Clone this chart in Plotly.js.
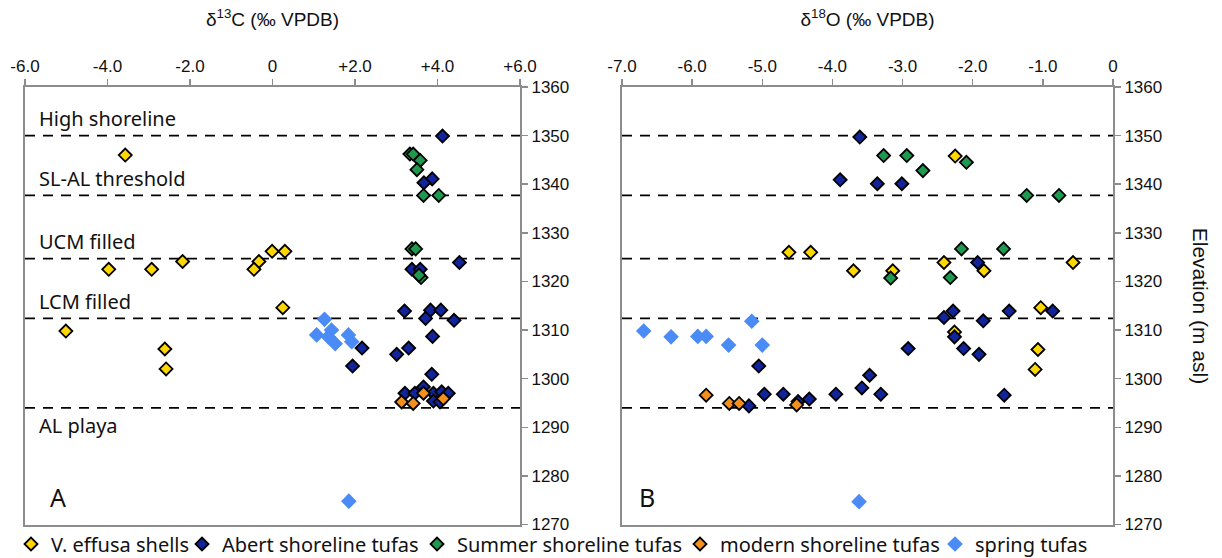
<!DOCTYPE html>
<html>
<head>
<meta charset="utf-8">
<script src="https://cdn.plot.ly/plotly-3.0.1.min.js"></script>
<style>html,body{margin:0;padding:0;background:#fff;}#chart{width:1222px;height:558px;}</style>
</head>
<body>
<div id="chart"></div>
<script>
// ---- Reference levels ----
const levelElev = [1350, 1337.7, 1324.7, 1312.4, 1294];
const levelNames = ["High shoreline", "SL-AL threshold", "UCM filled", "LCM filled", "AL playa"];

// ---- Axis ticks ----
const cTickVals = [-6, -4, -2, 0, 2, 4, 6];
const cTickText = ["-6.0", "-4.0", "-2.0", "0", "+2.0", "+4.0", "+6.0"];
const oTickVals = [-7, -6, -5, -4, -3, -2, -1, 0];
const oTickText = ["-7.0", "-6.0", "-5.0", "-4.0", "-3.0", "-2.0", "-1.0", "0"];
const elevTicks = [1270, 1280, 1290, 1300, 1310, 1320, 1330, 1340, 1350, 1360];

// ---- V. effusa shells ----
const shellElevC = [1346, 1326.2, 1326.2, 1324.1, 1324.1, 1322.5, 1322.5, 1322.5, 1314.6, 1309.8, 1306.1, 1302];
const shellD13C  = [-3.57, -0.01, 0.30, -2.18, -0.33, -3.97, -2.93, -0.45, 0.25, -5.01, -2.61, -2.58];
const shellElevO = [1345.8, 1326, 1326, 1323.9, 1323.9, 1322.2, 1322.2, 1322.2, 1314.6, 1309.6, 1306, 1301.9];
const shellD18O  = [-2.25, -4.62, -4.31, -2.41, -0.57, -3.70, -3.14, -1.84, -1.03, -2.26, -1.07, -1.11];

// ---- Abert shoreline tufas ----
const abertElevC = [1349.9, 1341.1, 1340.3, 1323.9, 1322.5, 1322.5, 1313.9, 1314.1, 1314.1, 1312.4, 1312.0, 1306.3, 1302.6, 1305.0, 1306.3, 1308.7, 1300.9, 1297.0, 1297.0, 1298.3, 1297.0, 1297.3, 1297.0, 1295.4, 1295.2];
const abertD13C  = [4.12, 3.87, 3.67, 4.53, 3.38, 3.58, 3.20, 3.83, 4.08, 3.71, 4.40, 2.17, 1.94, 3.01, 3.30, 3.88, 3.86, 3.21, 3.45, 3.66, 3.90, 4.10, 4.26, 3.90, 4.06];
const abertElevO = [1349.7, 1340.9, 1340.1, 1340.1, 1323.9, 1313.9, 1313.9, 1313.9, 1312.6, 1311.9, 1308.6, 1306.2, 1306.2, 1305.0, 1302.6, 1300.7, 1298.1, 1296.8, 1296.8, 1296.8, 1296.8, 1296.6, 1295.8, 1295.3, 1294.4];
const abertD18O  = [-3.61, -3.89, -3.36, -3.01, -1.93, -2.28, -1.48, -0.86, -2.41, -1.85, -2.26, -2.92, -2.13, -1.91, -5.05, -3.47, -3.58, -4.97, -4.70, -3.95, -3.31, -1.55, -4.33, -4.49, -5.19];

// ---- Summer shoreline tufas ----
const summerElevC = [1346.2, 1346.2, 1344.9, 1343.0, 1337.7, 1337.7, 1326.7, 1326.7, 1320.8, 1321.3];
const summerD13C  = [3.33, 3.41, 3.58, 3.50, 3.66, 4.03, 3.38, 3.47, 3.60, 3.55];
const summerElevO = [1345.9, 1345.9, 1344.5, 1342.8, 1337.7, 1337.7, 1326.7, 1326.7, 1320.7, 1320.8];
const summerD18O  = [-3.27, -2.94, -2.09, -2.71, -1.23, -0.77, -2.16, -1.56, -3.17, -2.32];

// ---- modern shoreline tufas ----
const modernElevC = [1295.2, 1294.9, 1297.0, 1295.9];
const modernD13C  = [3.13, 3.41, 3.66, 4.14];
const modernElevO = [1296.6, 1294.9, 1294.9, 1294.6];
const modernD18O  = [-5.80, -5.47, -5.33, -4.51];

// ---- spring tufas ----
const springElevC = [1312.2, 1309.0, 1310.0, 1308.6, 1307.2, 1309.0, 1307.6, 1274.8];
const springD13C  = [1.26, 1.07, 1.43, 1.35, 1.52, 1.84, 1.92, 1.85];
const springElevO = [1309.8, 1308.6, 1308.7, 1308.7, 1306.9, 1311.8, 1306.9, 1274.7];
const springD18O  = [-6.69, -6.30, -5.92, -5.80, -5.48, -5.15, -5.00, -3.62];

const series = [
  {name: "spring tufas", color: "#4b8bf5", outline: false, size: 12, legend: "legend5",
   eC: springElevC, c: springD13C, eO: springElevO, o: springD18O},
  {name: "V. effusa shells", color: "#ffd700", outline: true, size: 10, legend: "legend",
   eC: shellElevC, c: shellD13C, eO: shellElevO, o: shellD18O},
  {name: "Abert shoreline tufas", color: "#11249b", outline: true, size: 10, legend: "legend2",
   eC: abertElevC, c: abertD13C, eO: abertElevO, o: abertD18O},
  {name: "Summer shoreline tufas", color: "#1e9a50", outline: true, size: 10, legend: "legend3",
   eC: summerElevC, c: summerD13C, eO: summerElevO, o: summerD18O},
  {name: "modern shoreline tufas", color: "#f5901e", outline: true, size: 10, legend: "legend4",
   eC: modernElevC, c: modernD13C, eO: modernElevO, o: modernD18O}
];

const traces = [];
series.forEach(s => {
  const marker = {symbol: "diamond", size: s.size, color: s.color,
    line: s.outline ? {color: "#000", width: 1.8} : {width: 0}};
  traces.push({type: "scatter", mode: "markers", name: s.name, x: s.c, y: s.eC,
    xaxis: "x", yaxis: "y", marker: marker, legend: s.legend, showlegend: true});
  traces.push({type: "scatter", mode: "markers", name: s.name, x: s.o, y: s.eO,
    xaxis: "x2", yaxis: "y2", marker: marker, legend: s.legend, showlegend: false});
});

const shapes = [];
levelElev.forEach(v => {
  ["", "2"].forEach(k => {
    shapes.push({type: "line", layer: "below", xref: "x" + k + " domain", yref: "y" + k,
      x0: 0, x1: 1, y0: v, y1: v, line: {color: "#000", width: 1.6, dash: "10px,8px"}});
  });
});

const FONT_AX = "Liberation Sans, Arial, sans-serif";
const FONT_TX = "Noto Sans, sans-serif";

const annotations = [];
levelNames.forEach((t, i) => {
  annotations.push({text: t, xref: "x domain", yref: "y", x: 0.024, y: levelElev[i],
    xanchor: "left", yanchor: "middle", yshift: i === 4 ? -18 : 17, showarrow: false,
    font: {family: FONT_TX, size: 20, color: "#111"}});
});
annotations.push({text: "A", xref: "x domain", yref: "y domain", x: 0.067, y: 0.062,
  xanchor: "center", yanchor: "middle", showarrow: false, font: {family: FONT_TX, size: 25, color: "#111"}});
annotations.push({text: "B", xref: "x2 domain", yref: "y2 domain", x: 0.05, y: 0.062,
  xanchor: "center", yanchor: "middle", showarrow: false, font: {family: FONT_TX, size: 25, color: "#111"}});
annotations.push({text: "Elevation (m asl)", xref: "paper", yref: "paper", x: (1200 - 25) / 1088, y: 0.5,
  xanchor: "center", yanchor: "middle", textangle: 90, showarrow: false,
  font: {family: FONT_AX, size: 21, color: "#111"}});

const axisCommon = {showline: true, linecolor: "#8c8c8c", linewidth: 2, mirror: true,
  ticks: "outside", ticklen: 6, tickwidth: 1.5, tickcolor: "#8c8c8c",
  showgrid: false, zeroline: false, tickfont: {family: FONT_AX, size: 17, color: "#111"}};

const legendCommon = {orientation: "h", xref: "container", yref: "container", y: 14 / 558,
  yanchor: "middle", xanchor: "left", bgcolor: "rgba(0,0,0,0)", borderwidth: 0,
  itemwidth: 30, font: {family: FONT_TX, size: 20, color: "#111"}, itemclick: false};
const legendTextStart = [53, 224, 459, 722, 977];
const legendKeys = ["legend", "legend2", "legend3", "legend4", "legend5"];

const layout = {
  width: 1222, height: 558,
  margin: {l: 25, r: 109, t: 87, b: 31},
  paper_bgcolor: "#fff", plot_bgcolor: "#fff",
  xaxis: Object.assign({}, axisCommon, {domain: [0, 0.455], range: [-6, 6], side: "top", anchor: "y",
    tickvals: cTickVals, ticktext: cTickText,
    title: {text: "δ<sup>13</sup>C (‰ VPDB)", font: {family: FONT_AX, size: 19, color: "#111"}, standoff: 26}}),
  yaxis: Object.assign({}, axisCommon, {domain: [0, 1], range: [1270, 1360], side: "right", anchor: "x",
    tickvals: elevTicks}),
  xaxis2: Object.assign({}, axisCommon, {domain: [0.5487, 1], range: [-7, 0], side: "top", anchor: "y2",
    tickvals: oTickVals, ticktext: oTickText,
    title: {text: "δ<sup>18</sup>O (‰ VPDB)", font: {family: FONT_AX, size: 19, color: "#111"}, standoff: 26}}),
  yaxis2: Object.assign({}, axisCommon, {domain: [0, 1], range: [1270, 1360], side: "right", anchor: "x2",
    tickvals: elevTicks}),
  shapes: shapes,
  annotations: annotations
};
legendKeys.forEach((k, i) => {
  layout[k] = Object.assign({}, legendCommon, {x: (legendTextStart[i] - 42) / 1222});
});

Plotly.newPlot("chart", traces, layout, {displayModeBar: false, staticPlot: true});
</script>
</body>
</html>
